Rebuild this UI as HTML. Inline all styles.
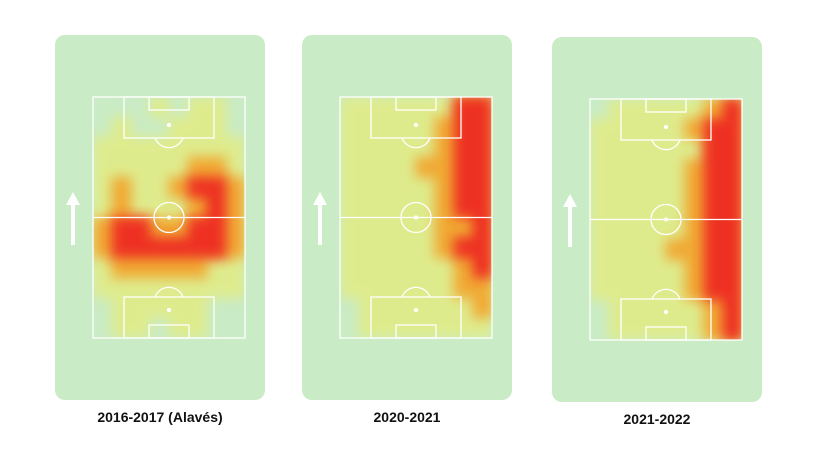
<!DOCTYPE html>
<html><head><meta charset="utf-8"><style>
html,body{margin:0;padding:0;background:#fff;width:832px;height:468px;overflow:hidden}
text{font-family:"Liberation Sans",sans-serif;font-weight:bold;font-size:14px;fill:#111}
</style></head><body>
<svg id="chart" width="832" height="468" viewBox="0 0 832 468">
<defs>
<filter id="blur" filterUnits="userSpaceOnUse" x="0" y="0" width="832" height="468"><feGaussianBlur stdDeviation="6"/></filter>
</defs>
</svg>
<script>
const seasons=["2016-2017 (Alavés)","2020-2021","2021-2022"];
const heat2016=[
[0,0,0,1,0,1,1,0],[0,1,0,0,1,1,1,0],[1,1,1,1,1,1,1,1],[1,1,1,1,1,2,2,1],
[1,2,1,1,2,3,3,2],[1,2,1,1,1,2,3,2],[2,3,3,2,2,3,3,2],[2,3,3,3,3,3,3,2],
[1,2,2,2,2,2,1,1],[1,1,1,1,1,1,1,1],[0,1,1,1,1,1,0,0],[0,1,1,0,1,1,0,0]];
const heat2020=[
[1,1,1,1,1,1,3,3],[1,1,1,1,1,2,3,3],[1,1,1,1,1,2,3,3],[1,1,1,1,2,2,3,3],
[1,1,1,1,1,2,3,3],[1,1,1,1,1,2,3,3],[1,1,1,1,1,2,2,3],[1,1,1,1,1,2,3,3],
[1,1,1,1,1,1,2,3],[1,1,1,1,1,1,2,2],[0,1,1,1,1,1,1,2],[0,1,1,1,1,1,1,1]];
const heat2021=[
[0,1,1,1,1,1,2,3],[1,1,1,1,1,2,3,3],[1,1,1,1,1,1,3,3],[1,1,1,1,1,2,3,3],
[1,1,1,1,1,2,3,3],[1,1,1,1,1,2,3,3],[1,1,1,1,1,2,3,3],[1,1,1,1,2,2,3,3],
[1,1,1,1,1,2,3,3],[1,1,1,1,1,2,3,3],[0,1,1,1,1,1,2,3],[0,1,1,1,1,1,2,3]];
const heats=[heat2016,heat2020,heat2021];
const panelX=[55,302,552], panelY=[35,35,37];
const colors=["none","#f0ec60","#f3a32a","#ee2a22"];
const opac=[0,0.55,0.9,0.95];
const svg=document.getElementById('chart');
const NS="http://www.w3.org/2000/svg";
function mk(tag,attrs,parent){const e=document.createElementNS(NS,tag);for(const k in attrs)e.setAttribute(k,attrs[k]);(parent||svg).appendChild(e);return e;}
seasons.forEach((s,i)=>{
  const px=panelX[i],py=panelY[i];
  const g=mk('g',{});
  
  
  mk('rect',{x:px,y:py,width:210,height:365,rx:10,fill:'#c9ebc5'},g);
  const fx=px+38,fy=py+62,fw=152,fh=241;
  const cid='clip'+i;
  const cp=mk('clipPath',{id:cid},g);mk('rect',{x:fx,y:fy,width:fw,height:fh},cp);
  const hg=mk('g',{'clip-path':'url(#'+cid+')'},g);
  const grid=heats[i],rows=grid.length,cols=grid[0].length;
  const cw=fw/cols,ch=fh/rows;
  const xs=c=>fx+c*cw, ys=r=>fy+r*ch;
  [1,2,3].forEach(level=>{
    const bg=mk('g',{filter:'url(#blur)',opacity:opac[level]},hg);
    grid.forEach((row,r)=>row.forEach((v,c)=>{
      if(v<level)return;
      const cell=mk('rect',{x:xs(c)-0.5,y:ys(r)-0.5,width:cw+1,height:ch+1,fill:colors[level]},bg);
      
      
    }));
  });
  const L=mk('g',{fill:'none',stroke:'#fff','stroke-width':1.3},g);
  
  
  mk('rect',{x:fx,y:fy,width:fw,height:fh},L);
  mk('line',{x1:fx,y1:fy+fh/2,x2:fx+fw,y2:fy+fh/2},L);
  mk('circle',{cx:fx+fw/2,cy:fy+fh/2,r:15},L);
  mk('rect',{x:fx+31,y:fy,width:90,height:41},L);
  mk('rect',{x:fx+56,y:fy,width:40,height:13},L);
  mk('rect',{x:fx+31,y:fy+fh-41,width:90,height:41},L);
  mk('rect',{x:fx+56,y:fy+fh-13,width:40,height:13},L);
  mk('path',{d:`M${fx+62} ${fy+41} A15 15 0 0 0 ${fx+90} ${fy+41}`},L);
  mk('path',{d:`M${fx+62} ${fy+fh-41} A15 15 0 0 1 ${fx+90} ${fy+fh-41}`},L);
  mk('circle',{cx:fx+fw/2,cy:fy+28,r:1.5,fill:'#fff'},L);
  mk('circle',{cx:fx+fw/2,cy:fy+fh-28,r:1.5,fill:'#fff'},L);
  mk('circle',{cx:fx+fw/2,cy:fy+fh/2,r:1.5,fill:'#fff'},L);
  const ar=mk('g',{},g);
  
  
  mk('line',{x1:px+18,y1:py+210,x2:px+18,y2:py+165,stroke:'#fff','stroke-width':4},ar);
  mk('path',{d:`M${px+11} ${py+170} L${px+18} ${py+157} L${px+25} ${py+170} Z`,fill:'#fff'},ar);
  const t=mk('text',{x:px+105,y:py+387,'text-anchor':'middle'},g);
  t.textContent=s;
  
  
});
</script>
</body></html>
